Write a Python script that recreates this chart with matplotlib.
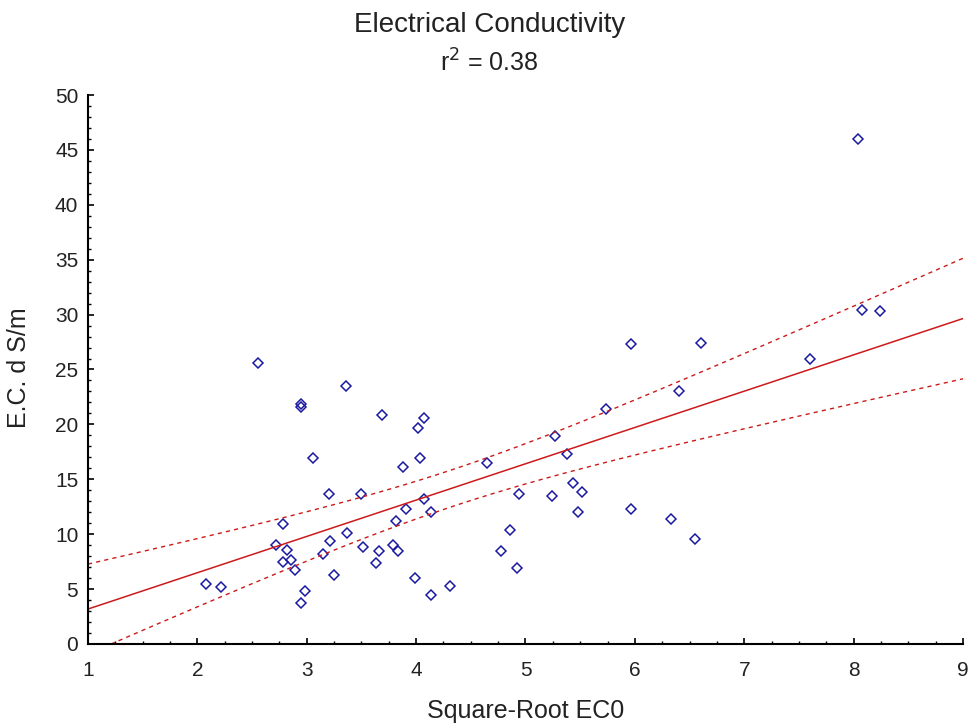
import numpy as np
import matplotlib
matplotlib.use("Agg")
import matplotlib.pyplot as plt
from matplotlib.ticker import MultipleLocator

plt.rcParams['font.family'] = ['Liberation Sans', 'DejaVu Sans']

# values
sqrt_ec0 = [2.55, 3.36, 2.95, 2.95, 3.69, 4.07, 4.02, 3.06, 3.88, 4.04,
            3.20, 3.50, 4.07, 3.91, 4.14, 3.82, 2.78, 3.37, 3.21, 2.72,
            2.82, 3.51, 3.79, 3.83, 3.66, 3.15, 2.78, 2.86, 2.89, 3.63,
            3.25, 2.08, 2.22, 2.98, 2.95, 3.99, 4.14, 4.31,
            5.96, 6.60, 6.40, 5.74, 5.27, 4.65, 5.38, 5.43, 5.52, 4.94,
            5.24, 5.48, 5.96, 6.33, 6.55, 4.86, 4.78, 4.92,
            8.04, 8.08, 8.24, 7.60]
ec_dsm = [25.6, 23.5, 21.9, 21.6, 20.9, 20.6, 19.7, 16.9, 16.1, 16.9,
          13.7, 13.7, 13.2, 12.3, 12.0, 11.2, 10.9, 10.1, 9.4, 9.0,
          8.6, 8.8, 9.0, 8.5, 8.5, 8.2, 7.5, 7.65, 6.7, 7.4,
          6.3, 5.5, 5.2, 4.8, 3.7, 6.0, 4.5, 5.3,
          27.3, 27.45, 23.0, 21.4, 18.9, 16.5, 17.3, 14.7, 13.8, 13.7,
          13.5, 12.0, 12.3, 11.4, 9.6, 10.4, 8.5, 6.9,
          46.0, 30.4, 30.3, 26.0]

x = np.array(sqrt_ec0)
y = np.array(ec_dsm)

# linear fit + confidence band of the mean
n = len(x)
slope, intercept = np.polyfit(x, y, 1)
resid = y - (slope * x + intercept)
s = np.sqrt(np.sum(resid ** 2) / (n - 2))

xs = np.linspace(1, 9, 200)
fit = slope * xs + intercept
se = s * np.sqrt(1 / n + (xs - x.mean()) ** 2 / np.sum((x - x.mean()) ** 2))
t = 2.0
upper = fit + t * se
lower = fit - t * se

fig = plt.figure(figsize=(9.7, 7.23), dpi=100)
ax = fig.add_axes([0.0907, 0.1093, 0.9021, 0.7593])

ax.plot(x, y, linestyle='none', marker='D', markersize=5.5, markerfacecolor='none',
        markeredgecolor='#1a1aa0', markeredgewidth=1.1)
ax.plot(xs, fit, color='#cc1a1a', linewidth=1.1)
ax.plot(xs, upper, color='#cc1a1a', linewidth=1.0, linestyle=(0, (3, 3)))
ax.plot(xs, lower, color='#cc1a1a', linewidth=1.0, linestyle=(0, (3, 3)))

ax.set_xlim(1, 9)
ax.set_ylim(0, 50)
ax.xaxis.set_major_locator(MultipleLocator(1))
ax.xaxis.set_minor_locator(MultipleLocator(0.25))
ax.yaxis.set_major_locator(MultipleLocator(5))
ax.yaxis.set_minor_locator(MultipleLocator(1))
ax.tick_params(which='major', direction='in', length=4, width=1.2, labelsize=15, labelcolor='#222222')
ax.tick_params(axis='x', which='major', pad=12)
ax.tick_params(axis='y', which='major', pad=7)
ax.tick_params(which='minor', direction='in', length=2.5, width=1.0)
for side in ['top', 'right']:
    ax.spines[side].set_visible(False)
for side in ['left', 'bottom']:
    ax.spines[side].set_linewidth(1.5)

txt = '#222222'
fig.text(0.5415, 0.0075, 'Square-Root EC0', ha='center', va='baseline', fontsize=18, color=txt)
fig.text(0.0196, 0.491, 'E.C. d S/m', ha='center', va='center', rotation=90, fontsize=18, color=txt)
fig.text(0.5045, 0.966, 'Electrical Conductivity', ha='center', va='center', fontsize=20, color=txt)
fig.text(0.5045, 0.913, 'r$^2$ = 0.38', ha='center', va='center', fontsize=18, color=txt)

fig.savefig('out.png', dpi=100)
